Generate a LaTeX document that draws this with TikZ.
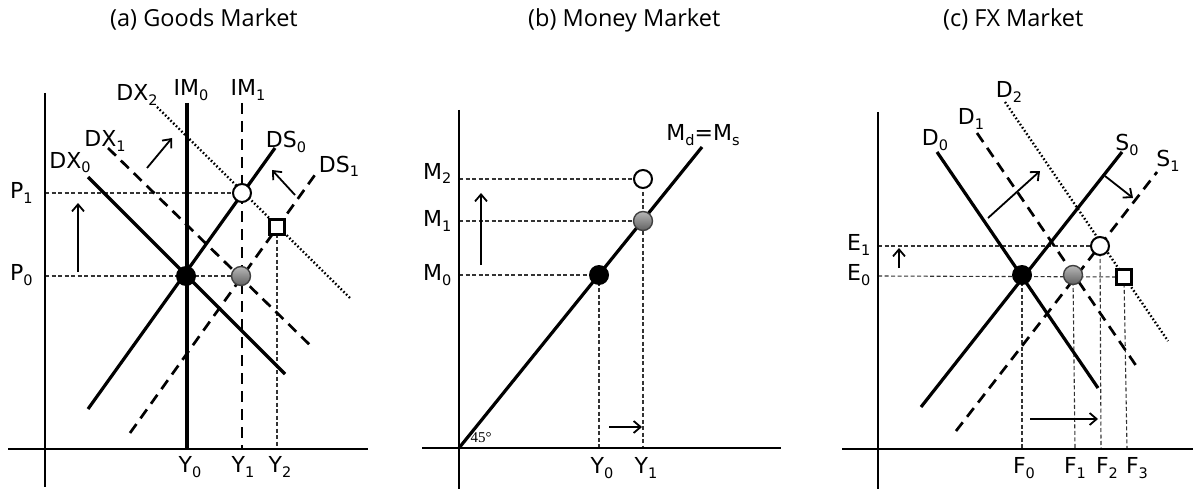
\documentclass[tikz,border=0pt]{standalone}
\usepackage{fontspec}
\setmainfont{DejaVu Sans}
\newfontfamily\titlefont{Open Sans}
\newfontfamily\degfont{Liberation Serif}
\usetikzlibrary{arrows.meta}
\newcommand\lbl[2]{#1\raisebox{-5pt}{\fontsize{14.5}{15}\selectfont #2}}
\tikzset{
 axisline/.style={line width=2.8pt},
 solidcurve/.style={line width=3.2pt},
 dashcurve/.style={line width=2.7pt, dash pattern=on 11pt off 7pt},
 dotcurve/.style={line width=2.4pt, dash pattern=on 1.6pt off 2.2pt},
 guide/.style={line width=1.1pt, dash pattern=on 4pt off 2.5pt, black!80},
 movearrow/.style={line width=1.8pt, -{Straight Barb[length=7pt,width=12pt,line width=1.8pt]}},
 blackdot/.style={circle, fill=black, minimum size=20pt, inner sep=0pt},
 graydot/.style={circle, draw=black!75, line width=1.4pt, top color=black!28, bottom color=black!62, minimum size=19pt, inner sep=0pt},
 whitedot/.style={circle, draw=black, fill=white, line width=2pt, minimum size=18pt, inner sep=0pt},
 sqmark/.style={rectangle, draw=black, fill=white, line width=2.4pt, minimum size=15pt, inner sep=0pt},
 lab/.style={font=\fontsize{22}{24}\selectfont, inner sep=0pt, anchor=base},
 labw/.style={lab, anchor=base west},
 paneltitle/.style={font=\titlefont\fontsize{23.5}{26}\selectfont, inner sep=0pt, anchor=base west},
}
\begin{document}
\begin{tikzpicture}[x=1pt,y=-1pt]
\useasboundingbox (0,0) rectangle (1193,489);
% ---------------- titles
\node[paneltitle] (ta) at (110,27) {(a) Goods Market};
\node[paneltitle] (tb) at (528,27) {(b) Money Market};
\node[paneltitle] (tc) at (943,27) {(c) FX Market};

% ================= Panel (a)
\coordinate (aO) at (186,276);
\coordinate (aG) at (241,276);
\coordinate (aW) at (242,193);
\coordinate (aS) at (277,227);
\draw[guide] (45,193) -- (aW);
\draw[guide] (45,276) -- (aG);
\draw[guide] (aS) -- (277,449);
\draw[axisline] (45,93) -- (45,487);
\draw[axisline] (8,449) -- (368,449);
\draw[solidcurve] (187,103) -- (187,449);
\draw[dashcurve] (242,103) -- (242,449);
\draw[solidcurve] (88,177) -- (285,374);
\draw[solidcurve] (88,409) -- (275,148);
\draw[dashcurve] (130,433) -- (317,172);
\draw[dashcurve] (108,148) -- (313,348);
\draw[dotcurve] (157,107) -- (350,298);
\draw[movearrow] (78,272) -- (78,203);
\draw[movearrow] (147,168) -- (172,138);
\draw[movearrow] (295,195) -- (272,170);
\node[blackdot] (adot0) at (aO) {};
\node[graydot] (adot1) at (aG) {};
\node[whitedot] (adot2) at (aW) {};
\node[sqmark] (asq) at (aS) {};
\node[lab] (lIM0) at (191,96) {\lbl{IM}{0}};
\node[lab] (lIM1) at (248,96) {\lbl{IM}{1}};
\node[lab] (lDX2) at (137,101) {\lbl{DX}{2}};
\node[lab] (lDX1) at (105,147) {\lbl{DX}{1}};
\node[lab] (lDX0) at (70,168) {\lbl{DX}{0}};
\node[lab] (lDS0) at (286,148) {\lbl{DS}{0}};
\node[lab] (lDS1) at (339,172) {\lbl{DS}{1}};
\node[labw] (lP1) at (10,199) {\lbl{P}{1}};
\node[labw] (lP0) at (10,280) {\lbl{P}{0}};
\node[lab] (laY0) at (190,472) {\lbl{Y}{0}};
\node[lab] (laY1) at (243,472) {\lbl{Y}{1}};
\node[lab] (laY2) at (280,472) {\lbl{Y}{2}};

% ================= Panel (b)
\coordinate (bO) at (599,275);
\coordinate (bG) at (643,221);
\coordinate (bW) at (643,179);
\draw[guide] (459,179) -- (bW);
\draw[guide] (459,221) -- (bG);
\draw[guide] (459,275) -- (bO);
\draw[guide] (bO) -- (599,448);
\draw[guide] (bW) -- (643,448);
\draw[axisline] (459,110) -- (459,489);
\draw[axisline] (422,448) -- (781,448);
\draw[solidcurve] (459,448) -- (702,147);
\draw[movearrow] (481,265) -- (481,193);
\draw[movearrow] (609,427) -- (642,427);
\node[blackdot] (bdot0) at (bO) {};
\node[graydot] (bdot1) at (bG) {};
\node[whitedot] (bdot2) at (bW) {};
\node[font=\degfont\fontsize{15}{16}\selectfont, inner sep=0pt] (deg) at (481,438) {45°};
\node[lab] (lMdMs) at (703,141) {\lbl{M}{d}=\lbl{M}{s}};
\node[labw] (lM2) at (423,179) {\lbl{M}{2}};
\node[labw] (lM1) at (423,226) {\lbl{M}{1}};
\node[labw] (lM0) at (423,280) {\lbl{M}{0}};
\node[lab] (lbY0) at (602,473) {\lbl{Y}{0}};
\node[lab] (lbY1) at (646,473) {\lbl{Y}{1}};

% ================= Panel (c)
\coordinate (cO) at (1022,275);
\coordinate (cG) at (1073,275);
\coordinate (cW) at (1100,246);
\coordinate (cS) at (1124,277);
\draw[guide] (878,246) -- (cW);
\draw[guide] (878,276) -- (cS);
\draw[guide] (cO) -- (1022,449);
\draw[guide] (cG) -- (1075,449);
\draw[guide] (cW) -- (1101,449);
\draw[guide] (cS) -- (1127,449);
\draw[axisline] (878,112) -- (878,489);
\draw[axisline] (842,449) -- (1193,449);
\draw[solidcurve] (937,152) -- (1098,388);
\draw[dashcurve] (977,133) -- (1137,367);
\draw[dotcurve] (1005,102) -- (1168,341);
\draw[solidcurve] (921,407) -- (1122,152);
\draw[dashcurve] (956,431) -- (1157,172);
\draw[movearrow] (988,218) -- (1040,171);
\draw[movearrow] (1105,176) -- (1133,198);
\draw[movearrow] (899,268) -- (899,248);
\draw[movearrow] (1030,419) -- (1098,419);
\node[blackdot] (cdot0) at (cO) {};
\node[graydot] (cdot1) at (cG) {};
\node[whitedot] (cdot2) at (cW) {};
\node[sqmark] (csq) at (cS) {};
\node[lab] (lD2) at (1009,98) {\lbl{D}{2}};
\node[lab] (lD1) at (971,125) {\lbl{D}{1}};
\node[lab] (lD0) at (935,146) {\lbl{D}{0}};
\node[lab] (lS0) at (1127,151) {\lbl{S}{0}};
\node[lab] (lS1) at (1168,167) {\lbl{S}{1}};
\node[labw] (lE1) at (847,250) {\lbl{E}{1}};
\node[labw] (lE0) at (847,280) {\lbl{E}{0}};
\node[lab] (lF0) at (1024,473) {\lbl{F}{0}};
\node[lab] (lF1) at (1075,473) {\lbl{F}{1}};
\node[lab] (lF2) at (1107,473) {\lbl{F}{2}};
\node[lab] (lF3) at (1137,473) {\lbl{F}{3}};
\end{tikzpicture}
\end{document}
